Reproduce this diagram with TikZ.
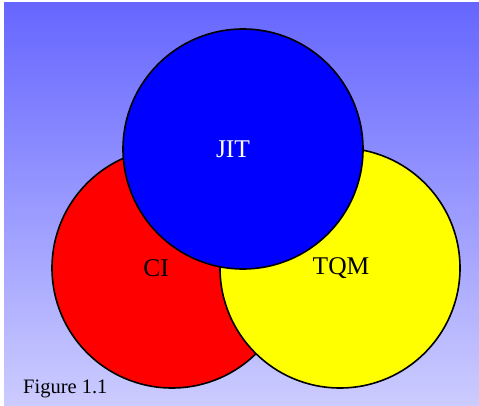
\documentclass[tikz,border=0pt]{standalone}
\usepackage{fontspec}
\setmainfont{Liberation Serif}
\definecolor{bgtop}{RGB}{102,102,255}
\definecolor{bgbottom}{RGB}{204,204,255}
\definecolor{setyellow}{RGB}{255,255,0}
\definecolor{setred}{RGB}{255,0,0}
\definecolor{setblue}{RGB}{0,0,255}
\tikzset{
  setcircle/.style={circle, draw=black, line width=1.6pt, minimum size=240pt, inner sep=0pt},
  setlabel/.style={font=\fontsize{25.5}{30}\selectfont, inner sep=0pt},
}
\begin{document}
\begin{tikzpicture}[x=1pt, y=-1pt]
  % page frame and gradient backdrop
  \useasboundingbox (0,0) rectangle (479,406);
  \shade[top color=bgtop, bottom color=bgbottom] (4,3) rectangle (479,406);
  % the three overlapping sets
  \node[setcircle, fill=setred]    (ci)  at (172,268) {};
  \node[setcircle, fill=setyellow] (tqm) at (340,268) {};
  \node[setcircle, fill=setblue]   (jit) at (243,149) {};
  % set labels
  \node[setlabel, text=white] (jitlabel) at (233,149) {JIT};
  \node[setlabel] (cilabel)  at (156,268) {CI};
  \node[setlabel] (tqmlabel) at (341,268) {TQM};
  % caption
  \node[font=\fontsize{20.5}{24}\selectfont, anchor=base west, inner sep=0pt] (caption) at (23,393) {Figure 1.1};
\end{tikzpicture}
\end{document}
